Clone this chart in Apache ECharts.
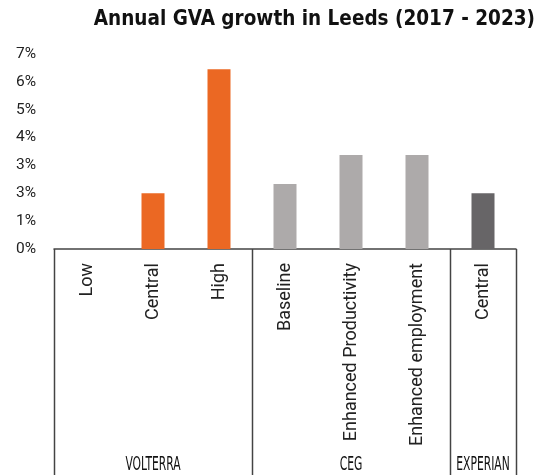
<!DOCTYPE html>
<html><head><meta charset="utf-8">
<script src="https://cdn.jsdelivr.net/npm/echarts/dist/echarts.min.js"></script>
<style>html,body{margin:0;padding:0;background:#fff}#c{width:535px;height:475px}</style>
</head><body><div id="c"></div>
<script>
var categories = ['Low', 'Central', 'High', 'Baseline', 'Enhanced Productivity', 'Enhanced employment', 'Central'];
var values = [0, 2.0, 6.45, 2.33, 3.37, 3.37, 2.0];
var barGroup = [0, 0, 0, 1, 1, 1, 2];
var groupNames = ['VOLTERRA', 'CEG', 'EXPERIAN'];
var groupSizes = [3, 3, 1];
var groupColors = ['#EB6823', '#ADAAAA', '#676567'];
var yTickLabels = ['0%', '1%', '3%', '3%', '4%', '5%', '6%', '7%'];

var chart = echarts.init(document.getElementById('c'), null, {renderer: 'canvas'});
var FONT = 'Roboto, "DejaVu Sans", sans-serif';
chart.setOption({
  animation: false,
  title: {
    text: 'Annual GVA growth in Leeds (2017 - 2023)',
    right: 0, top: 9, padding: 0,
    textStyle: {fontFamily: '"DejaVu Sans Condensed", "DejaVu Sans", sans-serif', fontWeight: 'bold', fontSize: 20.5, color: '#111'}
  },
  grid: {left: 54, right: 19, top: 54, bottom: 226, containLabel: false},
  xAxis: {
    type: 'category', data: categories,
    axisLine: {show: true, lineStyle: {color: '#444', width: 1.5}},
    axisTick: {show: false},
    axisLabel: {rotate: 90, margin: 14, interval: 0, fontFamily: FONT, fontSize: 18, color: '#222'}
  },
  yAxis: {
    type: 'value', min: 0, max: 7, interval: 1,
    axisLine: {show: false}, axisTick: {show: false}, splitLine: {show: false},
    axisLabel: {margin: 18, fontFamily: FONT, fontSize: 15.5, color: '#222',
      formatter: function (v) { return yTickLabels[Math.round(v)]; }}
  },
  series: [{
    type: 'bar', barWidth: 23,
    data: values.map(function (v, i) { return {value: v, itemStyle: {color: groupColors[barGroup[i]]}}; })
  }]
});

// Group boxes below the axis, positioned from the category scale
var c0 = chart.convertToPixel({xAxisIndex: 0}, 0);
var c1 = chart.convertToPixel({xAxisIndex: 0}, 1);
var step = c1 - c0;
var axisY = chart.convertToPixel({yAxisIndex: 0}, 0);
var graphics = [];
var start = 0;
var bounds = [0];
groupSizes.forEach(function (s) { start += s; bounds.push(start); });
bounds.forEach(function (b) {
  var x = Math.round(c0 + (b - 0.5) * step) + 0.5;
  graphics.push({type: 'line', shape: {x1: x, y1: axisY, x2: x, y2: 475}, style: {stroke: '#444', lineWidth: 1.5}, silent: true});
});
groupNames.forEach(function (n, i) {
  var cx = c0 + ((bounds[i] + bounds[i + 1]) / 2 - 0.5) * step;
  graphics.push({type: 'text', x: cx, y: 456, scaleX: 0.63, style: {text: n, x: 0, y: 0, textAlign: 'center', textVerticalAlign: 'top',
    font: '19px "Liberation Sans Narrow", "DejaVu Sans Condensed", sans-serif', fill: '#111'}, silent: true});
});
chart.setOption({graphic: graphics});
</script>
</body></html>
